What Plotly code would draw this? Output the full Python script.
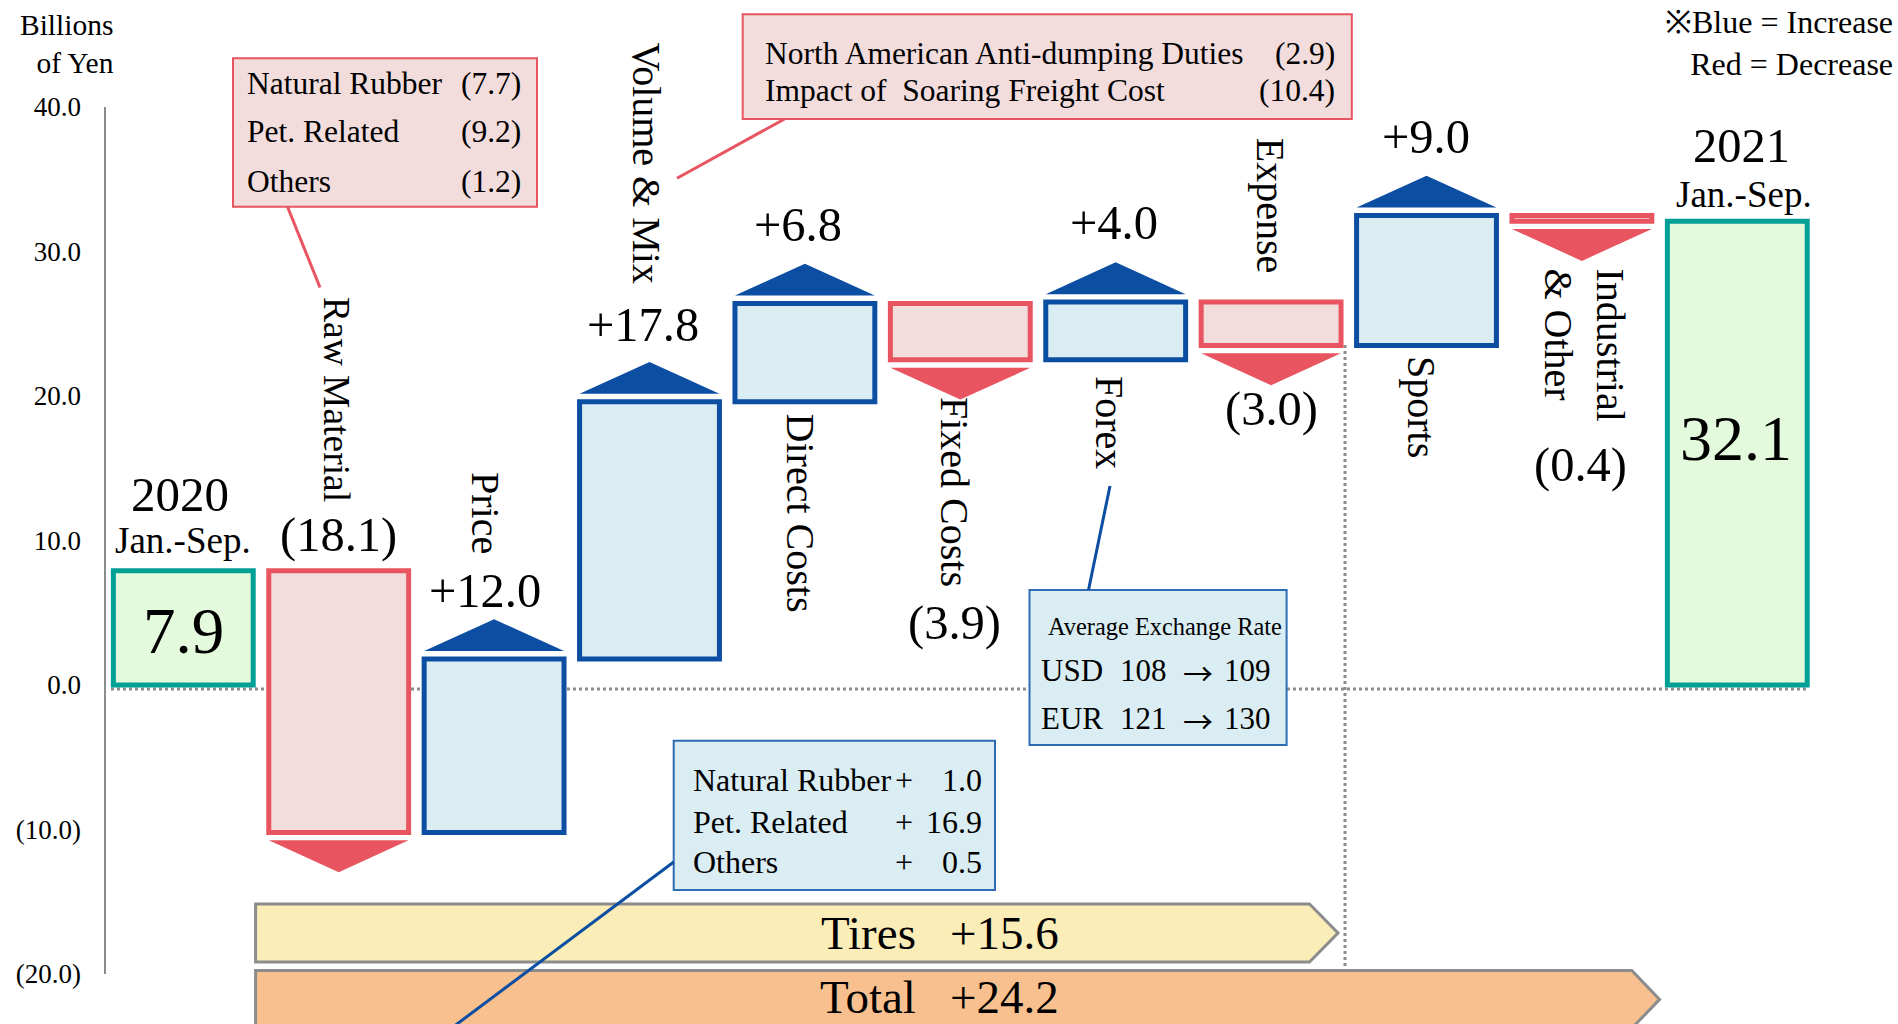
import plotly.graph_objects as go

# ---------------- data ----------------
categories = ["2020 Jan.-Sep.", "Raw Material", "Price", "Volume & Mix", "Direct Costs",
              "Fixed Costs", "Forex", "Expense", "Sports", "Industrial & Other", "2021 Jan.-Sep."]
values = [7.9, -18.1, 12.0, 17.8, 6.8, -3.9, 4.0, -3.0, 9.0, -0.4, 32.1]
measures = ["absolute"] + ["relative"] * 9 + ["total"]
value_labels = ["7.9", "(18.1)", "+12.0", "+17.8", "+6.8", "(3.9)", "+4.0", "(3.0)", "+9.0", "(0.4)", "32.1"]
cat_labels = ["", "Raw Material", "Price", "Volume & Mix", "Direct Costs", "Fixed Costs",
              "Forex", "Expense", "Sports", "Industrial<br>& Other", ""]
year_labels = ["2020", "2021"]
period_label = "Jan.-Sep."

y_tickvals = [40, 30, 20, 10, 0, -10, -20]
y_ticktext = ["40.0", "30.0", "20.0", "10.0", "0.0", "(10.0)", "(20.0)"]

raw_items = ["Natural Rubber", "Pet. Related", "Others"]
raw_values = ["(7.7)", "(9.2)", "(1.2)"]
vol_items = ["North American Anti-dumping Duties", "Impact of\u00a0\u00a0Soaring Freight Cost"]
vol_values = ["(2.9)", "(10.4)"]
price_items = ["Natural Rubber", "Pet. Related", "Others"]
price_values = ["1.0", "16.9", "0.5"]
fx_title = "Average Exchange Rate"
fx_currency = ["USD", "EUR"]
fx_prev = ["108", "121"]
fx_curr = ["109", "130"]
segment_names = ["Tires", "Total"]
segment_values = ["+15.6", "+24.2"]
unit_label = "Billions<br>of Yen"
legend_note = "※Blue = Increase<br>Red = Decrease"

# ---------------- styles ----------------
FONT = "Liberation Serif"
ARROW_FONT = "Noto Sans CJK JP"
BLUE = "#0B4EA2"
BLUE_FILL = "#DAEDF3"
RED = "#E8545F"
RED_FILL = "#F2DCDC"
TEAL = "#00A096"
GREEN_FILL = "#E4FADC"
GRAY = "#8C8C8C"

W, H = 1898, 1024
PX0, PXS = 183.3, 155.4      # pixel of category 0, pixels per category
PY0, PYS = 685.0, 14.45      # pixel of value 0, pixels per unit
L_MARGIN = 105


def X(px):
    return (px - PX0) / PXS


def Y(py):
    return (PY0 - py) / PYS


fig = go.Figure()
xs = list(range(len(categories)))
fig.add_trace(go.Waterfall(
    x=xs, y=values, measure=measures, width=0.9,
    increasing=dict(marker=dict(color=BLUE_FILL, line=dict(color=BLUE, width=5))),
    decreasing=dict(marker=dict(color=RED_FILL, line=dict(color=RED, width=5))),
    totals=dict(marker=dict(color=GREEN_FILL, line=dict(color=TEAL, width=5))),
    connector=dict(visible=False), textposition="none", hoverinfo="skip",
    showlegend=False,
))

shapes = []


def line(px0, py0, px1, py1, color, width=3, dash="solid", layer="above"):
    shapes.append(dict(type="line", xref="x", yref="y", x0=X(px0), y0=Y(py0), x1=X(px1), y1=Y(py1),
                       line=dict(color=color, width=width, dash=dash), layer=layer))


def rect(px0, py0, px1, py1, fill, color, width=2):
    shapes.append(dict(type="rect", xref="x", yref="y", x0=X(px0), y0=Y(py0), x1=X(px1), y1=Y(py1),
                       fillcolor=fill, line=dict(color=color, width=width), layer="above"))


def poly(pts, fill, color=None, width=0, data=False):
    if data:
        d = "M " + " L ".join(f"{x},{y}" for x, y in pts) + " Z"
    else:
        d = "M " + " L ".join(f"{X(x)},{Y(y)}" for x, y in pts) + " Z"
    shapes.append(dict(type="path", xref="x", yref="y", path=d, fillcolor=fill,
                       line=dict(color=color or fill, width=width), layer="above"))


# axis line and dotted guide lines
shapes.append(dict(type="line", xref="paper", yref="y", x0=0, x1=0, y0=-20, y1=40,
                   line=dict(color=GRAY, width=2), layer="above"))
line(111, 689, 1808, 689, GRAY, 3, "dot", "below")
line(1345, 345, 1345, 966, GRAY, 3, "dot", "below")

# direction triangles derived from the waterfall values
GAP, TRI_H, HALF = 0.55, 2.2, 0.45
run = 0.0
for i, (v, m) in enumerate(zip(values, measures)):
    if m == "absolute":
        run = v
        continue
    if m == "total":
        continue
    lo, hi = sorted([run, run + v])
    run += v
    if v > 0:
        pts = [(i - HALF, hi + GAP), (i + HALF, hi + GAP), (i, hi + GAP + TRI_H)]
        poly(pts, BLUE, data=True)
    else:
        pts = [(i - HALF, lo - GAP), (i + HALF, lo - GAP), (i, lo - GAP - TRI_H)]
        poly(pts, RED, data=True)

# segment banners
poly([(255.6, 904), (1309.5, 904), (1338, 933), (1309.5, 962), (255.6, 962)], "#FBEDB7", GRAY, 3)
poly([(255.6, 970.5), (1631.8, 970.5), (1659.6, 999.4), (1631.8, 1028.3), (255.6, 1028.3)],
     "#F9C08F", GRAY, 3)

# callout boxes and leaders
rect(233, 58.3, 537, 206.7, RED_FILL, RED)
line(287.5, 206.7, 320, 287.5, RED, 3)
rect(742.7, 14.3, 1351.8, 119, RED_FILL, RED)
line(784.5, 119, 677, 178.3, RED, 3)
rect(673.7, 740.7, 995, 890, BLUE_FILL, "#2E6DB4")
line(673.7, 862, 449, 1030, BLUE, 3)
rect(1029.5, 590, 1286.6, 745, BLUE_FILL, "#2E6DB4")
line(1088.5, 590, 1110, 486, BLUE, 3)

annotations = []


def ann(text, px, py, size, xanchor="center", angle=0, align="center", family=FONT):
    annotations.append(dict(x=X(px), y=Y(py), xref="x", yref="y", text=text, showarrow=False,
                            font=dict(family=family, size=size, color="black"),
                            xanchor=xanchor, yanchor="middle", textangle=angle, align=align))


# value labels
value_pos = [(183.3, 630.8, 65), (338.7, 535, 48.5), (485, 590, 48.5), (643, 324.5, 48.5),
             (797.8, 224, 48.5), (954.5, 622.5, 48.5), (1114, 222.7, 48.5), (1271, 409, 48.5),
             (1426.4, 136.7, 48.5), (1580, 465, 48.5), (1736, 438.5, 64)]
for t, (px, py, s) in zip(value_labels, value_pos):
    ann(t, px, py, s)

# category labels (rotated)
cat_pos = [None, (336.5, 399.5, 37.5), (486, 513, 40), (647, 163.4, 40), (801.4, 513, 40),
           (955, 492, 40), (1110, 422, 40), (1270, 205.8, 40), (1422, 407, 40),
           (1584.5, 345, 40), None]
for t, p in zip(cat_labels, cat_pos):
    if p and t:
        ann(t, p[0], p[1], p[2], angle=90, align="left")

# year labels
ann(year_labels[0], 180, 494, 49)
ann(period_label, 183.3, 540, 37)
ann(year_labels[1], 1741.4, 145.8, 48.5)
ann(period_label, 1744.3, 194, 37)

# unit and note
ann(unit_label, 116, 44, 29.5, xanchor="right", align="right")
ann(legend_note, 1895, 42.5, 32, xanchor="right", align="right")

# raw material box text
for t, v, py in zip(raw_items, raw_values, [83.3, 131.7, 181.7]):
    ann(t, 244.6, py, 31.5, xanchor="left")
    ann(v, 523, py, 31.5, xanchor="right")

# volume box text
for t, v, py in zip(vol_items, vol_values, [53.3, 90]):
    ann(t, 763, py, 31.5, xanchor="left")
    ann(v, 1337, py, 31.5, xanchor="right")

# price box text
for t, v, py in zip(price_items, price_values, [780, 821.7, 861.7]):
    ann(t, 690.6, py, 32, xanchor="left")
    ann("+", 904, py, 32)
    ann(v, 984, py, 32, xanchor="right")

# forex box text
ann(fx_title, 1046.4, 626.7, 24.4, xanchor="left")
for c, a, b, py in zip(fx_currency, fx_prev, fx_curr, [670, 718.3]):
    ann(c, 1038.8, py, 31, xanchor="left")
    ann(a, 1143.5, py, 31)
    ann("→", 1198, py + 2, 30, family=ARROW_FONT)
    ann(b, 1247, py, 31)

# banner text
for n, v, py in zip(segment_names, segment_values, [933, 997]):
    ann(n, 868, py, 47)
    ann(v, 1004.6, py, 47)

fig.update_layout(
    width=W, height=H, autosize=False,
    margin=dict(l=L_MARGIN, r=0, t=0, b=0, pad=0),
    plot_bgcolor="white", paper_bgcolor="white",
    shapes=shapes, annotations=annotations,
    xaxis=dict(range=[X(L_MARGIN), X(W)], visible=False, fixedrange=True),
    yaxis=dict(range=[Y(H), Y(0)], tickvals=y_tickvals, ticktext=y_ticktext,
               showgrid=False, zeroline=False, showline=False, ticks="",
               ticklabelstandoff=23, automargin=False,
               tickfont=dict(family=FONT, size=27, color="black"), fixedrange=True),
    font=dict(family=FONT),
)

fig.write_html("out.html", config={"displayModeBar": False})
